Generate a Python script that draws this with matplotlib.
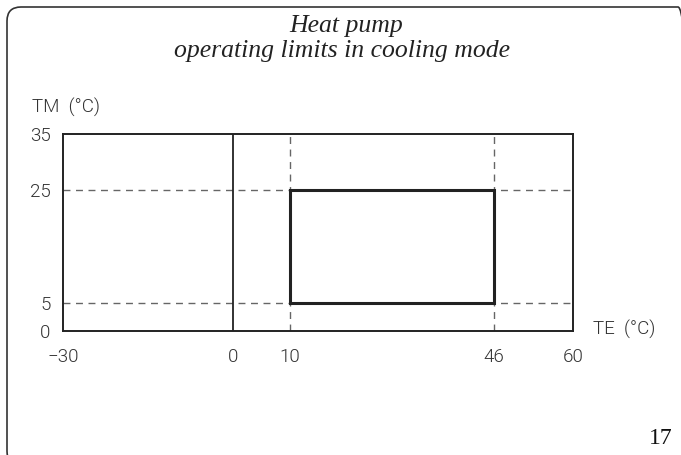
import matplotlib
matplotlib.use('Agg')
import matplotlib.pyplot as plt
from matplotlib import font_manager
from matplotlib.patches import FancyBboxPatch, Rectangle
from matplotlib.transforms import IdentityTransform

# operating window (TE, TM in degC)
te_limits = [10, 46]
tm_limits = [5, 25]
x_ticks = [-30, 0, 10, 46, 60]
y_ticks = [0, 5, 25, 35]
x_range = [-30, 60]
y_range = [0, 35]
title_lines = ['Heat pump', 'operating limits in cooling mode']
page_no = '17'

# thin sans for the drawing labels, take the first one that is installed
def pick_font():
    have = {(f.name, f.weight) for f in font_manager.fontManager.ttflist}
    for name, w in [('Roboto', 300), ('Lato', 300), ('Open Sans', 300), ('Inter', 300)]:
        if (name, w) in have:
            return name, w
    return 'DejaVu Sans', 400

fam, wgt = pick_font()
tick_font = dict(family=fam, weight=wgt, color='#333333', fontsize=13.5)

fig = plt.figure(figsize=(6.81, 4.55), dpi=100)
ax = fig.add_axes([63/681, 1-331/455, 510/681, 197/455])
ax.set_xlim(x_range)
ax.set_ylim(y_range)

# dashed guides
for v in te_limits:
    ax.plot([v, v], y_range, ls=(0, (5, 4)), color='#666666', lw=1.0)
for v in tm_limits:
    ax.plot(x_range, [v, v], ls=(0, (5, 4)), color='#666666', lw=1.0)
# TE = 0 line
ax.plot([0, 0], y_range, color='#222222', lw=1.3)

# operating limits
ax.add_patch(Rectangle((te_limits[0], tm_limits[0]), te_limits[1]-te_limits[0],
                       tm_limits[1]-tm_limits[0], fill=True, fc='white', ec='#222222',
                       lw=2.2, zorder=3))

for s in ax.spines.values():
    s.set_linewidth(1.4)
    s.set_color('#222222')
ax.set_xticks(x_ticks)
ax.set_xticklabels(['\u221230' if t < 0 else str(t) for t in x_ticks], **tick_font)
ax.set_yticks(y_ticks)
ax.set_yticklabels([str(t) for t in y_ticks], **tick_font)
ax.tick_params(length=0, pad=9)
ax.tick_params(axis='x', pad=12)

fig.text(32/681, 1-107/455, 'TM  (\u00b0C)', ha='left', va='center', **tick_font)
fig.text(593/681, 1-329/455, 'TE  (\u00b0C)', ha='left', va='center', **tick_font)

fig.text(346/681, 1-32/455, title_lines[0], ha='center', va='baseline',
         family='Liberation Serif', style='italic', fontsize=18.5, color='#222222')
fig.text(342/681, 1-57/455, title_lines[1], ha='center', va='baseline',
         family='Liberation Serif', style='italic', fontsize=18.5, color='#222222')
fig.text(661/681, 1-438/455, page_no, ha='center', va='center',
         family='Liberation Serif', fontsize=17, color='#111111')

# page frame (rounded, runs off the right and bottom edge)
frame = FancyBboxPatch((7, -10), 685, 455-7+10, boxstyle='round,pad=0,rounding_size=14',
                       transform=IdentityTransform(), fill=False, ec='#333333', lw=1.2)
fig.patches.append(frame)

fig.savefig('out.png', dpi=100)
